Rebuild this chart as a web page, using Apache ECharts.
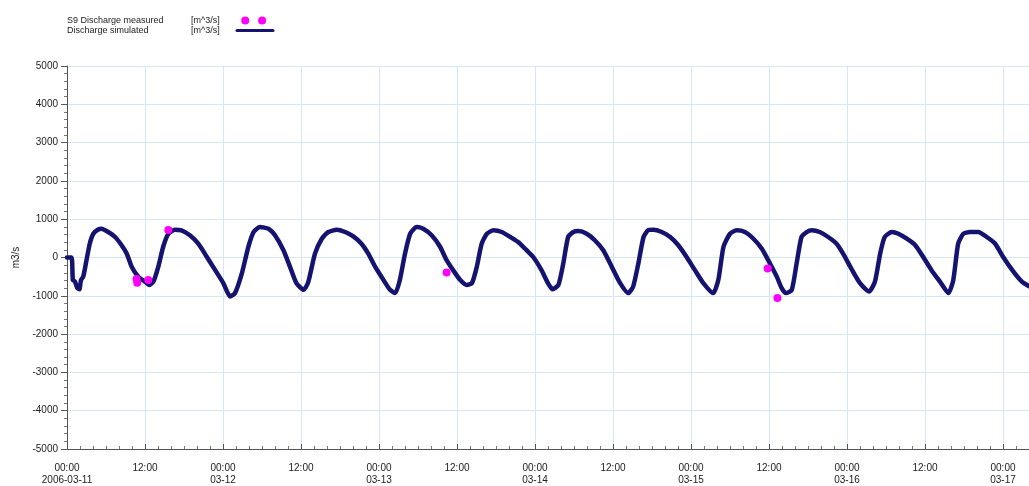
<!DOCTYPE html>
<html>
<head>
<meta charset="utf-8">
<script src="https://cdn.jsdelivr.net/npm/echarts@6/dist/echarts.min.js"></script>
<style>
html,body{margin:0;padding:0;background:#fff;}
#chart{width:1029px;height:486px;}
</style>
</head>
<body>
<div id="chart"></div>
<script>
// hours since 2006-03-11 00:00
var simHours = [0,0.7,0.9,1.2,1.6,1.9,2.15,2.5,3.0,3.5,4.05,4.8,5.3,6.35,7.4,8.4,9.2,9.95,10.97,12.0,12.67,13.3,14.05,14.8,15.6,16.6,17.6,18.9,20.2,21.5,22.8,24.05,25.1,25.85,26.9,27.9,28.7,29.7,31.0,32.0,33.3,34.3,35.3,36.4,37.1,38.15,39.2,40.2,41.5,42.8,44.05,45.3,46.35,47.4,48.7,49.7,50.5,51.2,52.0,52.8,53.8,54.8,56.1,57.4,58.4,59.4,60.5,61.5,62.3,63.05,63.8,64.6,65.6,66.9,68.2,69.4,70.7,71.7,73.0,74.0,74.7,75.6,76.35,77.1,77.9,78.7,79.95,81.2,82.5,83.8,85.1,86.35,87.1,87.9,88.7,89.4,90.2,91.5,92.8,94.05,95.3,96.6,97.9,99.4,100.2,101.0,102.0,103.0,104.3,105.6,106.9,108.15,109.2,109.95,110.6,111.5,112.25,113.0,113.8,114.6,115.8,117.1,118.4,119.4,120.5,122.0,123.4,124.3,125.1,125.8,126.9,127.9,129.2,130.5,131.7,133.0,134.3,135.6,136.35,137.1,137.9,138.9,140.2,141.5,142.8,144.0,145.6,146.9,148.0];
var simValues = [0,0,-590,-620,-800,-830,-590,-500,-70,360,620,730,750,665,535,320,100,-240,-500,-630,-717,-630,-240,280,620,725,710,580,360,20,-330,-670,-1020,-930,-415,280,665,795,750,580,190,-240,-670,-845,-650,100,490,665,725,665,550,360,100,-240,-590,-845,-930,-590,100,620,795,750,580,280,-70,-330,-590,-717,-670,-240,360,620,710,665,535,405,190,20,-330,-670,-830,-717,-155,535,665,690,620,450,190,-240,-670,-930,-760,-155,535,710,725,665,535,320,20,-330,-670,-930,-590,280,620,710,665,490,230,-155,-500,-800,-930,-845,-155,535,665,710,665,535,360,100,-240,-670,-890,-630,100,535,665,620,490,320,20,-330,-630,-930,-590,360,620,665,665,535,360,20,-370,-630,-750];
var obsHours = [10.7,10.8,12.5,15.6,58.4,107.8,109.3];
var obsValues = [-560,-660,-590,720,-390,-285,-1060];
var dateLabels = ['2006-03-11','03-12','03-13','03-14','03-15','03-16','03-17'];
var seriesNames = ['S9 Discharge measured', 'Discharge simulated'];
var unitLabel = '[m^3/s]';
var yAxisName = 'm3/s';

var simData = simHours.map(function(h,i){return [h, simValues[i]];});
var obsData = obsHours.map(function(h,i){return [h, obsValues[i]];});

var FONT = 'Liberation Sans, Arial, sans-serif';
var chart = echarts.init(document.getElementById('chart'), null, {renderer:'canvas'});
chart.setOption({
  animation:false,
  backgroundColor:'#ffffff',
  textStyle:{fontFamily:FONT},
  legend:{
    orient:'vertical',
    left:67, top:16,
    align:'right',
    padding:0,
    itemWidth:40, itemHeight:8, itemGap:1,
    selectedMode:false,
    formatter:function(n){return '{a|'+n+'}{b|'+unitLabel+'}';},
    textStyle:{
      fontFamily:FONT, fontSize:9, color:'#222', align:'left',
      rich:{
        a:{width:124, fontSize:9, fontFamily:FONT, color:'#222', align:'left'},
        b:{width:39, fontSize:9, fontFamily:FONT, color:'#222', align:'left'}
      }
    },
    data:[
      {name:seriesNames[0], icon:'path://M0,0M40,8M4.5,4a4.5,4.5 0 1,0 9,0a4.5,4.5 0 1,0 -9,0ZM23.5,4a4.5,4.5 0 1,0 9,0a4.5,4.5 0 1,0 -9,0Z', itemStyle:{color:'#ff00ff'}},
      {name:seriesNames[1], icon:'path://M0,0M40,8M2,2.5L38,2.5A1.5,1.5 0 0 1 38,5.5L2,5.5A1.5,1.5 0 0 1 2,2.5Z', itemStyle:{color:'#141470'}}
    ]
  },
  grid:{left:67, right:0, top:66, bottom:34, containLabel:false},
  xAxis:{
    type:'value', min:0, max:148, interval:12,
    axisLine:{show:true, onZero:false, lineStyle:{color:'#555', width:1}},
    axisTick:{show:true, inside:true, length:5, lineStyle:{color:'#555'}},
    minorTick:{show:true, splitNumber:6, length:3, lineStyle:{color:'#777'}},
    splitLine:{show:true, lineStyle:{color:'#d6e6f6', width:1}},
    axisLabel:{
      margin:13, fontSize:10, color:'#222', fontFamily:FONT, lineHeight:12,
      showMaxLabel:false,
      formatter:function(v){
        var h = Math.round(v);
        if (h % 24 === 0) { return '00:00\n' + dateLabels[h/24]; }
        return '12:00';
      }
    }
  },
  yAxis:{
    type:'value', min:-5000, max:5000, interval:1000,
    name:yAxisName, nameLocation:'middle', nameGap:46, nameRotate:90,
    nameTextStyle:{fontSize:10, color:'#222', fontFamily:FONT},
    axisLine:{show:true, onZero:false, lineStyle:{color:'#555', width:1}},
    axisTick:{show:true, inside:false, length:6, lineStyle:{color:'#555'}},
    minorTick:{show:true, splitNumber:5, length:3, lineStyle:{color:'#777'}},
    splitLine:{show:true, lineStyle:{color:'#d6e6f6', width:1}},
    axisLabel:{margin:9, fontSize:10, color:'#222', fontFamily:FONT, formatter:function(v){return String(v);}}
  },
  series:[
    {
      name:seriesNames[1], type:'line', data:simData,
      showSymbol:false, symbol:'none', smooth:0.2,
      lineStyle:{color:'#141470', width:4.5, cap:'round', join:'round'},
      itemStyle:{color:'#141470'}, z:2
    },
    {
      name:seriesNames[0], type:'scatter', data:obsData,
      symbol:'circle', symbolSize:8,
      itemStyle:{color:'#ff00ff', opacity:1}, z:3
    }
  ]
});
</script>
</body>
</html>
